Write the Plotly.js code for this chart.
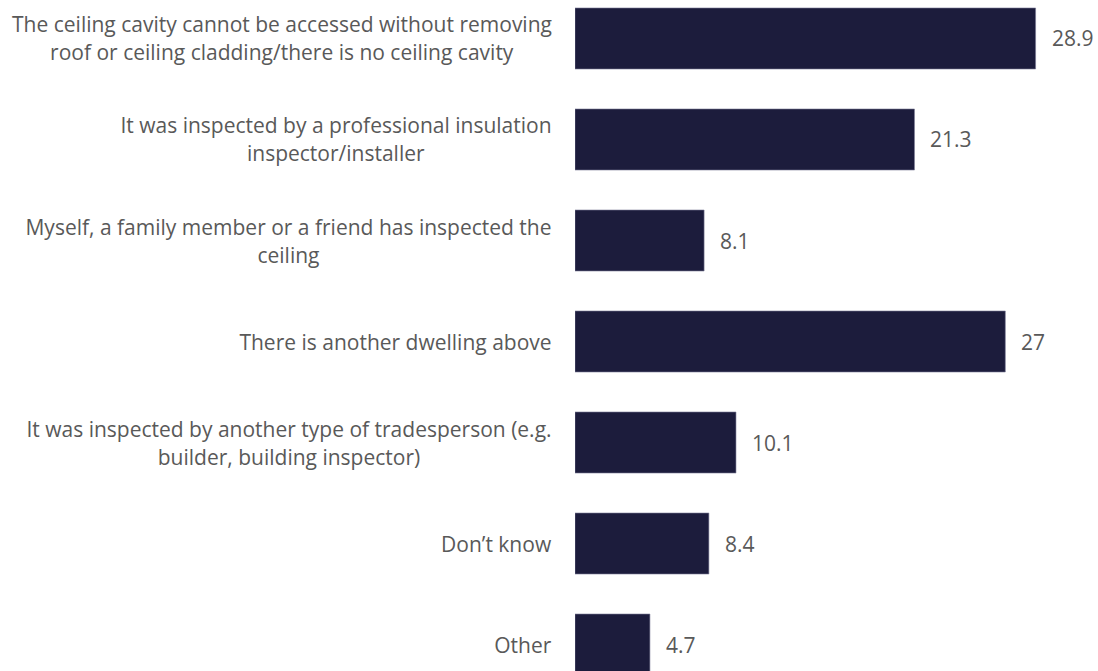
<!DOCTYPE html>
<html>
<head>
<meta charset="utf-8">
<script src="https://cdn.plot.ly/plotly-3.0.1.min.js"></script>
<style>html,body{margin:0;padding:0;background:#fff;}#chart{width:1098px;height:671px;}</style>
</head>
<body>
<div id="chart"></div>
<script>
// Data
const categories = [
  "The ceiling cavity cannot be accessed without removing|roof or ceiling cladding/there is no ceiling cavity",
  "It was inspected by a professional insulation|inspector/installer",
  "Myself, a family member or a friend has inspected the|ceiling",
  "There is another dwelling above",
  "It was inspected by another type of tradesperson (e.g.|builder, building inspector)",
  "Don\u2019t know",
  "Other"
];
const values = [28.9, 21.3, 8.1, 27, 10.1, 8.4, 4.7];
const valueLabels = ["28.9", "21.3", "8.1", "27", "10.1", "8.4", "4.7"];

const FONT = "Open Sans";
const FS = 21;
const TXT = "#595959";
const BAR = "#1c1c3c";

const ids = categories.map((c, i) => "c" + i);

// measure text widths for centered multi-line blocks
const cv = document.createElement("canvas").getContext("2d");
cv.font = FS + "px '" + FONT + "'";

const annotations = [];
categories.forEach((cat, i) => {
  const lines = cat.split("|");
  const maxW = Math.max(...lines.map(l => cv.measureText(l).width));
  const n = lines.length;
  lines.forEach((ln, j) => {
    annotations.push({
      x: 0, xref: "paper", y: ids[i], yref: "y",
      xanchor: "right", yanchor: "middle",
      xshift: -20,
      yshift: ((n - 1) / 2 - j) * 28,
      width: Math.ceil(maxW) + 2,
      align: "center",
      text: ln, showarrow: false,
      font: {family: FONT, size: FS, color: TXT}
    });
  });
  annotations.push({
    x: values[i], xref: "x", y: ids[i], yref: "y",
    xanchor: "left", yanchor: "middle", xshift: 14,
    text: valueLabels[i], showarrow: false,
    font: {family: FONT, size: FS, color: TXT}
  });
});

const trace = {
  type: "bar", orientation: "h",
  x: values, y: ids,
  marker: {color: BAR, line: {color: "#7a7a95", width: 0.6}},
  hoverinfo: "none"
};

const layout = {
  width: 1098, height: 671,
  margin: {l: 575, r: 13, t: 0, b: 0, pad: 0},
  paper_bgcolor: "#ffffff", plot_bgcolor: "#ffffff",
  bargap: 0.396,
  showlegend: false,
  xaxis: {range: [0, 32], visible: false, fixedrange: true},
  yaxis: {type: "category", range: [6.262, -0.381], showticklabels: false,
          showgrid: false, zeroline: false, showline: false, ticks: "", fixedrange: true},
  annotations: annotations,
  font: {family: FONT, size: FS, color: TXT}
};

Plotly.newPlot("chart", [trace], layout, {displayModeBar: false, staticPlot: true});
</script>
</body>
</html>
